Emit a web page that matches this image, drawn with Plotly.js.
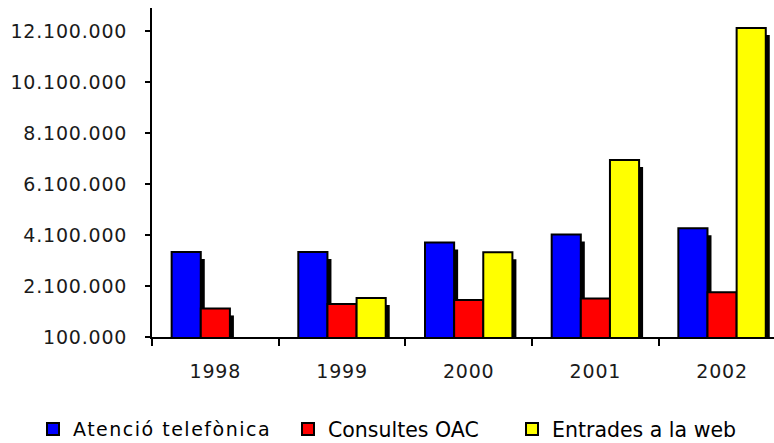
<!DOCTYPE html>
<html>
<head>
<meta charset="utf-8">
<script src="https://cdn.plot.ly/plotly-3.0.1.min.js"></script>
<style>
  html, body { margin: 0; padding: 0; background: #fff; }
  #chart { width: 774px; height: 443px; }
  .x2tick text, .y2tick text { letter-spacing: 0.8px; }
  .legendtext { letter-spacing: 1.5px; }
</style>
</head>
<body>
<div id="chart"></div>
<script>
// ---- data ----
var years = ['1998', '1999', '2000', '2001', '2002'];
var atencioTelefonica = [3430000, 3430000, 3810000, 4120000, 4360000];
var consultesOAC = [1220000, 1390000, 1550000, 1610000, 1850000];
var entradesWeb = [null, 1630000, 3420000, 7040000, 12220000];
var seriesNames = ['Atenció telefònica', 'Consultes OAC', 'Entrades a la web'];
var tickValues = [100000, 2100000, 4100000, 6100000, 8100000, 10100000, 12100000];
var tickLabels = ['100.000', '2.100.000', '4.100.000', '6.100.000', '8.100.000', '10.100.000', '12.100.000'];

// ---- style ----
var colors = ['#0000FF', '#FF0000', '#FFFF00'];
var fontFamily = 'DejaVu Sans, Verdana, sans-serif';
var W = 774, H = 443;
var margin = {l: 152, r: 0, t: 8, b: 106, pad: 0, autoexpand: false};
var plotW = W - margin.l - margin.r;
var plotH = H - margin.t - margin.b;
var xRange = [-0.5, 4.41];
var yRange = [100000, 13000000];
var shadowDxPx = 4, shadowDyPx = 7;
var dxUnits = shadowDxPx * (xRange[1] - xRange[0]) / plotW;
var dyUnits = shadowDyPx * (yRange[1] - yRange[0]) / plotH;

var allSeries = [atencioTelefonica, consultesOAC, entradesWeb];
var legendIds = ['legend', 'legend2', 'legend3'];
var traces = [];

// shadows (main axes, shifted ranges, invisible)
allSeries.forEach(function (vals, i) {
  traces.push({
    type: 'bar', x: years, y: vals, xaxis: 'x', yaxis: 'y',
    marker: {color: '#000000', line: {width: 0}},
    showlegend: false, hoverinfo: 'skip', name: seriesNames[i] + ' ombra'
  });
});
// bars (overlaying axes, visible)
allSeries.forEach(function (vals, i) {
  traces.push({
    type: 'bar', x: years, y: vals, xaxis: 'x2', yaxis: 'y2',
    name: seriesNames[i], legend: legendIds[i],
    marker: {color: colors[i], line: {color: '#000000', width: 2}}
  });
});

var legendY = -0.28;
function legendFont(size) { return {family: fontFamily, size: size, color: '#000000'}; }
var layout = {
  width: W, height: H, margin: margin,
  paper_bgcolor: '#ffffff', plot_bgcolor: '#ffffff',
  barmode: 'group', bargap: 0.31, bargroupgap: 0,
  showlegend: true,
  xaxis: {type: 'category', range: [xRange[0] - dxUnits, xRange[1] - dxUnits], visible: false, fixedrange: true},
  yaxis: {range: [yRange[0] + dyUnits, yRange[1] + dyUnits], visible: false, fixedrange: true},
  xaxis2: {
    type: 'category', overlaying: 'x', anchor: 'y2', side: 'bottom',
    range: xRange, showline: true, linecolor: '#000000', linewidth: 2,
    ticks: 'outside', tickson: 'boundaries', ticklen: 7, tickwidth: 2, tickcolor: '#000000',
    showgrid: false, zeroline: false,
    tickfont: {family: fontFamily, size: 19, color: '#1a1a1a'},
    ticklabelstandoff: 16
  },
  yaxis2: {
    overlaying: 'y', anchor: 'x2', side: 'left',
    range: yRange, tickmode: 'array', tickvals: tickValues, ticktext: tickLabels,
    showline: true, linecolor: '#000000', linewidth: 2,
    ticks: 'outside', ticklen: 5, tickwidth: 2, tickcolor: '#000000',
    showgrid: false, zeroline: false,
    tickfont: {family: fontFamily, size: 19, color: '#1a1a1a'},
    ticklabelstandoff: 14
  },
  legend: {x: (33 - margin.l) / plotW, y: legendY, xanchor: 'left', yanchor: 'middle', orientation: 'h', font: legendFont(19), bgcolor: 'rgba(0,0,0,0)'},
  legend2: {x: (288 - margin.l) / plotW, y: legendY, xanchor: 'left', yanchor: 'middle', orientation: 'h', font: legendFont(20.5), bgcolor: 'rgba(0,0,0,0)'},
  legend3: {x: (512 - margin.l) / plotW, y: legendY, xanchor: 'left', yanchor: 'middle', orientation: 'h', font: legendFont(20.5), bgcolor: 'rgba(0,0,0,0)'}
};

Plotly.newPlot('chart', traces, layout, {displayModeBar: false, staticPlot: true});
</script>
</body>
</html>
